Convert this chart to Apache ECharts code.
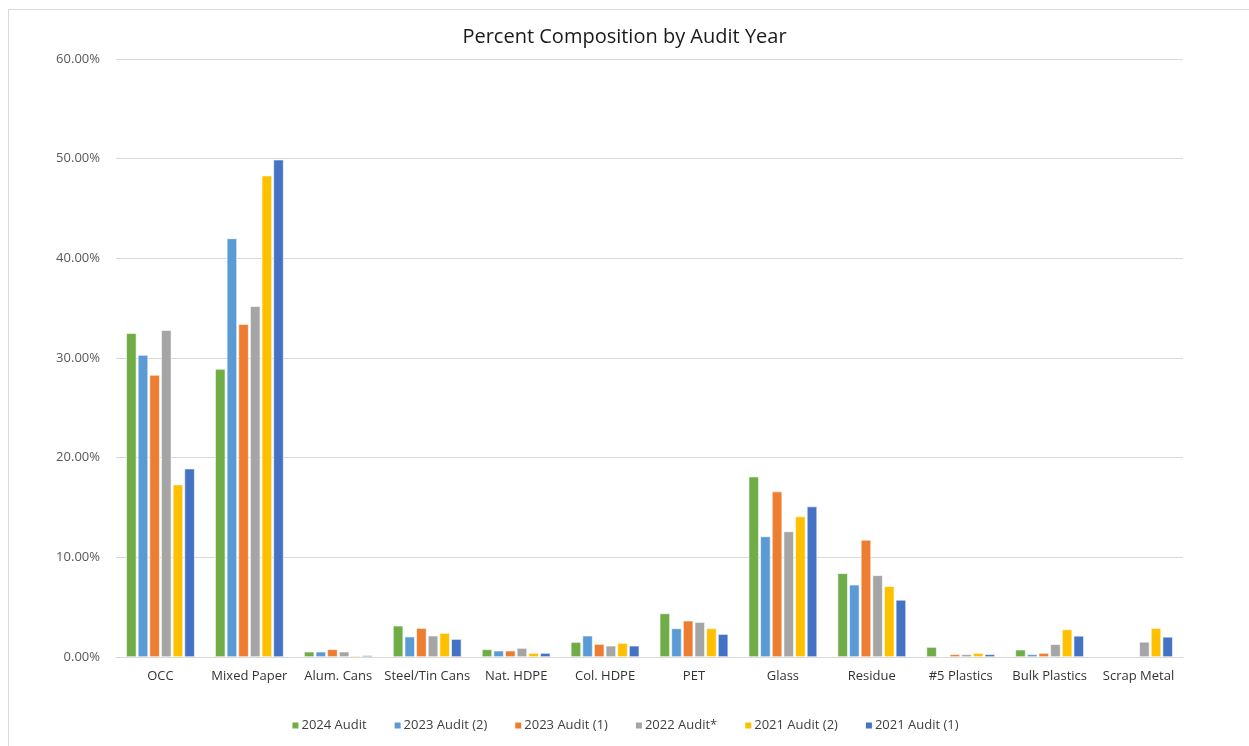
<!DOCTYPE html>
<html>
<head>
<meta charset="utf-8">
<script src="https://cdn.jsdelivr.net/npm/echarts@6/dist/echarts.min.js"></script>
<style>html,body{margin:0;padding:0;background:#fff;}#c{width:1249px;height:746px;}</style>
</head>
<body>
<div id="c"></div>
<script>
const categories = ['OCC','Mixed Paper','Alum. Cans','Steel/Tin Cans','Nat. HDPE','Col. HDPE','PET','Glass','Residue','#5 Plastics','Bulk Plastics','Scrap Metal'];
const seriesNames = ['2024 Audit','2023 Audit (2)','2023 Audit (1)','2022 Audit*','2021 Audit (2)','2021 Audit (1)'];
const colors = ['#70AD47','#5B9BD5','#ED7D31','#A5A5A5','#FFC000','#4472C4'];
const audit2024  = [32.5, 28.9, 0.53, 3.14, 0.77, 1.50, 4.37, 18.1, 8.4, 1.0, 0.73, null];
const audit2023b = [30.3, 42.0, 0.53, 2.04, 0.63, 2.14, 2.87, 12.1, 7.25, null, 0.27, null];
const audit2023a = [28.3, 33.4, 0.77, 2.90, 0.63, 1.30, 3.64, 16.6, 11.75, 0.27, 0.40, null];
const audit2022  = [32.8, 35.2, 0.53, 2.14, 0.90, 1.13, 3.50, 12.6, 8.2, 0.27, 1.28, 1.52];
const audit2021b = [17.3, 48.3, 0.13, 2.40, 0.40, 1.40, 2.87, 14.1, 7.1, 0.40, 2.77, 2.90];
const audit2021a = [18.9, 49.9, 0.16, 1.80, 0.40, 1.13, 2.30, 15.1, 5.73, 0.27, 2.12, 2.02];
const yTicks = [0, 10, 20, 30, 40, 50, 60];

const dataSets = [audit2024, audit2023b, audit2023a, audit2022, audit2021b, audit2021a];
const font = '"Open Sans", "Noto Sans", sans-serif';
const chart = echarts.init(document.getElementById('c'));
chart.setOption({
  animation: false,
  backgroundColor: '#fff',
  graphic: [{
    type: 'polyline',
    shape: { points: [[8.5, 760], [8.5, 9.5], [1260, 9.5]] },
    style: { stroke: '#d9d9d9', lineWidth: 1, fill: null },
    silent: true
  }],
  title: {
    text: 'Percent Composition by Audit Year',
    left: 'center', top: 22,
    textStyle: { fontFamily: font, fontSize: 20, fontWeight: 'normal', color: '#1a1a1a' }
  },
  legend: {
    bottom: 9, left: 'center',
    itemWidth: 8, itemHeight: 8, itemGap: 26,
    icon: 'rect',
    textStyle: { fontFamily: font, fontSize: 13, color: '#404040', padding: [0, 0, 0, -3] },
    data: seriesNames
  },
  grid: { left: 116, right: 66, top: 59, bottom: 89 },
  xAxis: {
    type: 'category',
    data: categories,
    axisLine: { lineStyle: { color: '#d9d9d9', width: 1 } },
    axisTick: { show: false },
    axisLabel: { fontFamily: font, fontSize: 13, color: '#333', margin: 13, interval: 0 }
  },
  yAxis: {
    type: 'value', min: yTicks[0], max: yTicks[yTicks.length - 1], interval: 10,
    axisLine: { show: false }, axisTick: { show: false },
    splitLine: { lineStyle: { color: '#d9d9d9', width: 1 } },
    axisLabel: { fontFamily: font, fontSize: 13, color: '#595959', margin: 16,
      formatter: v => v.toFixed(2) + '%' }
  },
  series: dataSets.map((d, i) => ({
    name: seriesNames[i], type: 'bar', data: d,
    barGap: '14%', barCategoryGap: '23%',
    itemStyle: { color: colors[i], borderColor: '#fff', borderWidth: 0.6 }
  }))
});
</script>
</body>
</html>
